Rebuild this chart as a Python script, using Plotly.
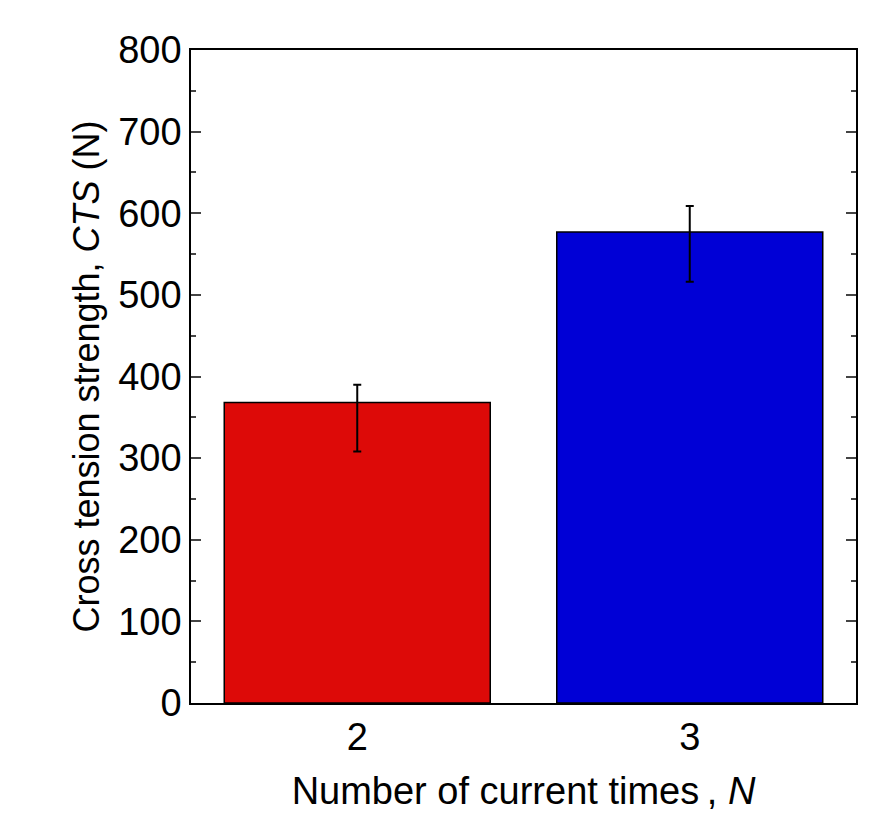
import plotly.graph_objects as go

categories = [2, 3]
cts_values = [368, 577]
err_plus = [22, 32]
err_minus = [60, 61]
colors = ["#DD0A08", "#0000D6"]

fig = go.Figure(go.Bar(
    x=categories, y=cts_values, width=0.8,
    marker=dict(color=colors, line=dict(color="black", width=1.5)),
    error_y=dict(type="data", symmetric=False, array=err_plus, arrayminus=err_minus,
                 color="black", thickness=2, width=4),
))
font = "Liberation Sans, Arial, sans-serif"
fig.update_layout(
    width=870, height=824, plot_bgcolor="white", paper_bgcolor="white",
    margin=dict(l=183, r=22, t=42, b=129), showlegend=False,
    font=dict(family=font, color="black"),
)
fig.update_xaxes(range=[1.5, 3.5], tickvals=categories, ticks="", mirror=True,
                 showline=True, linecolor="black", linewidth=1.5, showgrid=False,
                 tickfont=dict(size=38),
                 title=dict(text="Number of current times\u2009, <i>N</i>", font=dict(size=38), standoff=20))
fig.update_yaxes(range=[0, 800], dtick=100, ticks="inside", ticklen=10, tickwidth=1.5,
                 mirror="ticks", showline=True, linecolor="black", linewidth=1.5,
                 showgrid=False, zeroline=False, tickfont=dict(size=38),
                 minor=dict(dtick=50, ticks="inside", ticklen=5, tickwidth=1.5),
                 title=dict(text="Cross tension strength, <i>CTS</i> (N)", font=dict(size=36), standoff=8))
fig.write_html("out.html")
